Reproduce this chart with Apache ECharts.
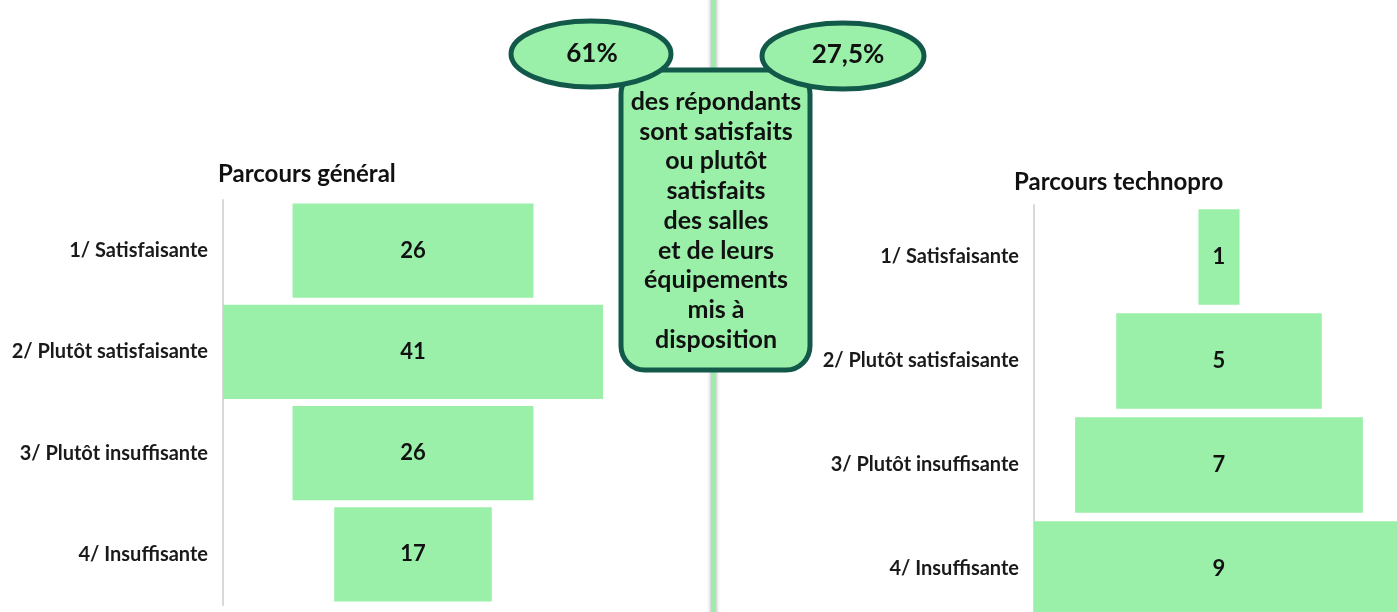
<!DOCTYPE html>
<html>
<head>
<meta charset="utf-8">
<script src="https://cdn.jsdelivr.net/npm/echarts@6/dist/echarts.min.js"></script>
<style>
html,body{margin:0;padding:0;background:#fff;}
#chart{width:1397px;height:612px;}
</style>
</head>
<body>
<div id="chart"></div>
<script>
// categories and values
var categories = ['1/ Satisfaisante', '2/ Plutôt satisfaisante', '3/ Plutôt insuffisante', '4/ Insuffisante'];
var generalValues = [26, 41, 26, 17];
var technoValues = [1, 5, 7, 9];
var generalTitle = 'Parcours général';
var technoTitle = 'Parcours technopro';
var pctGeneral = '61%';
var pctTechno = '27,5%';
var boxLines = ['des répondants', 'sont satisfaits', 'ou plutôt', 'satisfaits', 'des salles', 'et de leurs', 'équipements', 'mis à', 'disposition'];

var FONT = 'Lato';
var GREEN = '#9af0a9';
var DARK = '#13594a';

var generalMax = Math.max.apply(null, generalValues);
var technoMax = Math.max.apply(null, technoValues);

// barres centrées : une barre transparente de (max - v)/2 avant chaque barre
function padding(vals, max){
	var arr = [];
	for (var i = 0; i < vals.length; i++) {
		arr.push((max - vals[i]) / 2);
	}
	return arr;
}

function yAxisFor(idx){
	return {
		type: 'category',
		gridIndex: idx,
		data: categories,
		inverse: true,
		axisLine: { show: true, lineStyle: { color: '#d9d9d9', width: 2 } },
		axisTick: { show: false },
		axisLabel: { margin: 15, fontFamily: FONT, fontWeight: 'bold', fontSize: 20, color: '#1a1a1a' }
	};
}

function barPair(idx, vals, max, gap){
	return [
		{
			type: 'bar', xAxisIndex: idx, yAxisIndex: idx, stack: 's' + idx,
			data: padding(vals, max), silent: true,
			barCategoryGap: gap,
			itemStyle: { color: 'rgba(0,0,0,0)' }
		},
		{
			type: 'bar', xAxisIndex: idx, yAxisIndex: idx, stack: 's' + idx,
			data: vals, barCategoryGap: gap,
			itemStyle: { color: GREEN },
			label: {
				show: true, position: 'inside',
				fontFamily: FONT, fontWeight: 'bold', fontSize: 22, color: '#111'
			}
		}
	];
}

var graphics = [];
// séparateur vertical
graphics.push({
	type: 'rect', z: 10,
	shape: { x: 711, y: -5, width: 5, height: 625 },
	style: { fill: '#9beda9', shadowBlur: 4, shadowColor: 'rgba(0,0,0,0.35)' }
});
// encadré central
graphics.push({
	type: 'rect', z: 20,
	shape: { x: 621, y: 70, width: 189, height: 300, r: 24 },
	style: { fill: GREEN, stroke: DARK, lineWidth: 5 }
});
for (var i = 0; i < boxLines.length; i++) {
	graphics.push({
		type: 'text', z: 21,
		x: 716, y: 102 + i * 29.7,
		style: {
			text: boxLines[i], fill: '#111', align: 'center', verticalAlign: 'middle',
			font: 'bold 25px ' + FONT
		}
	});
}
// ellipses
graphics.push({
	type: 'ellipse', z: 30,
	shape: { cx: 591, cy: 54, rx: 80, ry: 33 },
	style: { fill: GREEN, stroke: DARK, lineWidth: 5 }
});
graphics.push({
	type: 'text', z: 31, x: 592, y: 54,
	style: { text: pctGeneral, fill: '#111', align: 'center', verticalAlign: 'middle', font: 'bold 26px ' + FONT }
});
graphics.push({
	type: 'ellipse', z: 30,
	shape: { cx: 843, cy: 56, rx: 81, ry: 33 },
	style: { fill: GREEN, stroke: DARK, lineWidth: 5 }
});
graphics.push({
	type: 'text', z: 31, x: 848, y: 55,
	style: { text: pctTechno, fill: '#111', align: 'center', verticalAlign: 'middle', font: 'bold 26px ' + FONT }
});

var myChart = echarts.init(document.getElementById('chart'));
var option = {
	animation: false,
	backgroundColor: '#fff',
	title: [
		{ text: generalTitle, left: 213, top: 157, textStyle: { fontFamily: FONT, fontWeight: 'bold', fontSize: 24, color: '#111' } },
		{ text: technoTitle, left: 1009, top: 165, textStyle: { fontFamily: FONT, fontWeight: 'bold', fontSize: 24, color: '#111' } }
	],
	grid: [
		{ left: 223, top: 200, width: 380, height: 405, outerBoundsMode: 'none' },
		{ left: 1034, top: 205, width: 370, height: 416, outerBoundsMode: 'none' }
	],
	xAxis: [
		{ type: 'value', gridIndex: 0, min: 0, max: generalMax, show: false },
		{ type: 'value', gridIndex: 1, min: 0, max: technoMax, show: false }
	],
	yAxis: [yAxisFor(0), yAxisFor(1)],
	series: barPair(0, generalValues, generalMax, '7%').concat(barPair(1, technoValues, technoMax, '8%')),
	graphic: graphics
};
myChart.setOption(option);
</script>
</body>
</html>
